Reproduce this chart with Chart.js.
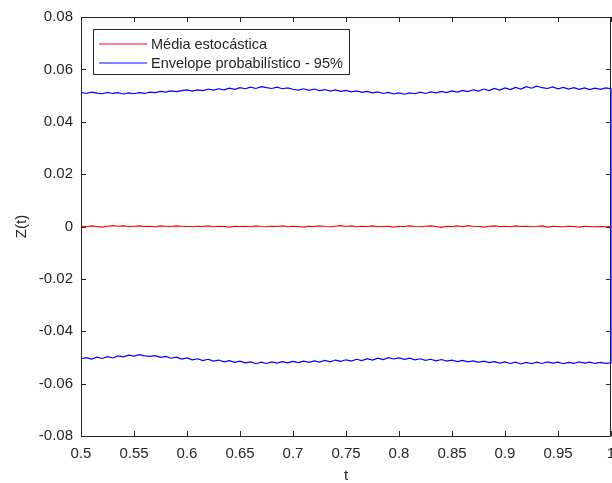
<!DOCTYPE html>
<html lang="pt">
<head>
  <meta charset="UTF-8" />
  <title>Z(t) - média e envelope</title>
  <script src="https://cdn.jsdelivr.net/npm/chart.js"></script>
  <style>
    * { margin: 0; padding: 0; }
    body { background: #fff; width: 612px; height: 483px; overflow: hidden; }
    #wrap { position: relative; width: 612px; height: 483px; }
  </style>
</head>
<body>
  <div id="wrap"><canvas id="chart"></canvas></div>

  <script>
    // amostragem em t: 0.5 .. 1.0, passo 0.005
    const T0 = 0.5;
    const DT = 0.005;

    const xTicks = [0.5, 0.55, 0.6, 0.65, 0.7, 0.75, 0.8, 0.85, 0.9, 0.95, 1];
    const yTicks = [-0.08, -0.06, -0.04, -0.02, 0, 0.02, 0.04, 0.06, 0.08];

    const mediaZ = [
      0.0001, -0.0001, 0.0002, 0.0000, -0.0002, 0.0001, 0.0003, 0.0001, 0.0002, 0.0000,
      0.0001, 0.0002, 0.0000, 0.0001, -0.0001, 0.0002, 0.0001, 0.0000, 0.0002, 0.0001,
      0.0000, -0.0001, 0.0001, 0.0000, 0.0002, -0.0001, 0.0001, 0.0000, -0.0002, 0.0001,
      0.0000, 0.0001, -0.0001, 0.0002, 0.0000, -0.0001, 0.0001, 0.0000, 0.0002, -0.0001,
      0.0001, 0.0000, -0.0002, 0.0001, 0.0000, 0.0002, 0.0000, -0.0001, 0.0001, 0.0003,
      0.0000, 0.0002, -0.0001, 0.0001, 0.0000, 0.0002, -0.0001, 0.0000, 0.0001, -0.0002,
      0.0001, 0.0000, 0.0002, 0.0000, -0.0001, 0.0001, 0.0002, 0.0000, -0.0003, 0.0001,
      0.0000, 0.0002, -0.0001, 0.0003, 0.0001, 0.0000, -0.0002, 0.0001, 0.0002, 0.0000,
      0.0001, -0.0001, 0.0002, 0.0000, 0.0001, -0.0001, 0.0000, 0.0002, -0.0002, 0.0001,
      0.0000, -0.0001, 0.0001, 0.0000, -0.0002, 0.0001, 0.0000, -0.0001, 0.0000, -0.0001,
      0.0000
    ];

    const envSup = [
      0.0512, 0.0508, 0.0513, 0.0509, 0.0507, 0.0512, 0.0508, 0.0511, 0.0506, 0.0510,
      0.0507, 0.0511, 0.0508, 0.0513, 0.0511, 0.0516, 0.0513, 0.0518, 0.0515, 0.0519,
      0.0522, 0.0517, 0.0522, 0.0519, 0.0525, 0.0521, 0.0526, 0.0522, 0.0528, 0.0524,
      0.0530, 0.0526, 0.0532, 0.0527, 0.0534, 0.0530, 0.0527, 0.0532, 0.0526, 0.0529,
      0.0524, 0.0521, 0.0526, 0.0520, 0.0525, 0.0519, 0.0523, 0.0517, 0.0522, 0.0516,
      0.0520, 0.0514, 0.0518, 0.0512, 0.0516, 0.0510, 0.0514, 0.0508, 0.0512, 0.0506,
      0.0510, 0.0505, 0.0510, 0.0507, 0.0513, 0.0508, 0.0514, 0.0510, 0.0516, 0.0511,
      0.0518, 0.0513, 0.0520, 0.0515, 0.0522, 0.0517, 0.0525, 0.0519, 0.0527, 0.0521,
      0.0529, 0.0523, 0.0531, 0.0525, 0.0534, 0.0528, 0.0536, 0.0530, 0.0527, 0.0533,
      0.0526, 0.0531, 0.0525, 0.0530, 0.0524, 0.0529, 0.0523, 0.0528, 0.0524, 0.0529,
      0.0526
    ];

    const envInf = [
      -0.0505, -0.0501, -0.0506, -0.0499, -0.0504, -0.0497, -0.0502, -0.0494, -0.0498, -0.0491,
      -0.0495, -0.0489, -0.0494, -0.0496, -0.0493, -0.0500, -0.0496, -0.0503, -0.0499, -0.0506,
      -0.0502, -0.0509, -0.0505, -0.0512, -0.0507, -0.0514, -0.0510, -0.0517, -0.0512, -0.0519,
      -0.0514, -0.0521, -0.0517, -0.0524, -0.0518, -0.0523, -0.0517, -0.0522, -0.0516, -0.0521,
      -0.0515, -0.0520, -0.0514, -0.0519, -0.0513, -0.0518, -0.0511, -0.0517, -0.0510, -0.0515,
      -0.0509, -0.0514, -0.0507, -0.0512, -0.0505, -0.0510, -0.0503, -0.0508, -0.0501, -0.0506,
      -0.0502, -0.0507, -0.0503, -0.0509, -0.0505, -0.0511, -0.0507, -0.0513, -0.0508, -0.0514,
      -0.0510, -0.0516, -0.0511, -0.0517, -0.0513, -0.0519, -0.0514, -0.0520, -0.0516, -0.0522,
      -0.0517, -0.0523, -0.0518, -0.0525, -0.0519, -0.0524, -0.0518, -0.0523, -0.0517, -0.0522,
      -0.0518, -0.0524, -0.0519, -0.0523, -0.0517, -0.0522, -0.0518, -0.0523, -0.0519, -0.0523,
      -0.0521
    ];

    const FONT = '"Liberation Sans", Arial, sans-serif';
    const TXT = '#262626';

    const pontos = (arr) => arr.map((v, i) => ({ x: +(T0 + i * DT).toFixed(4), y: v }));

    // envelope: superior em t crescente, depois inferior de volta (fecha em t = 1)
    const envPts = pontos(envSup).concat(pontos(envInf).reverse());

    // moldura estilo matlab: caixa + ticks para dentro nos 4 lados (por baixo das curvas),
    // legenda por cima
    const moldura = {
      id: 'moldura',
      beforeDatasetsDraw(chart) {
        const { ctx, chartArea: a, scales } = chart;
        const L = 5;
        ctx.save();
        ctx.strokeStyle = TXT;
        ctx.lineWidth = 1;
        ctx.beginPath();
        ctx.rect(Math.round(a.left) + 0.5, Math.round(a.top) + 0.5,
                 Math.round(a.right - a.left) - 1, Math.round(a.bottom - a.top));
        xTicks.forEach(v => {
          const px = Math.round(scales.x.getPixelForValue(v)) + 0.5;
          ctx.moveTo(px, a.bottom); ctx.lineTo(px, a.bottom - L);
          ctx.moveTo(px, a.top); ctx.lineTo(px, a.top + L);
        });
        yTicks.forEach(v => {
          const py = Math.round(scales.y.getPixelForValue(v)) + 0.5;
          ctx.moveTo(a.left, py); ctx.lineTo(a.left + L, py);
          ctx.moveTo(a.right, py); ctx.lineTo(a.right - L, py);
        });
        ctx.stroke();
        ctx.restore();
      },
      afterDatasetsDraw(chart) {
        const { ctx } = chart;
        ctx.save();
        ctx.font = '14.5px ' + FONT;
        const larg = Math.max(...chart.data.datasets.map(ds => ctx.measureText(ds.label).width));
        const bx = 93.5, by = 29.5, bw = Math.round(150 + larg + 7 - 93), bh = 45;
        ctx.fillStyle = '#fff';
        ctx.fillRect(bx, by, bw, bh);
        ctx.strokeStyle = TXT;
        ctx.lineWidth = 1;
        ctx.strokeRect(bx, by, bw, bh);
        ctx.textBaseline = 'middle';
        chart.data.datasets.forEach((ds, i) => {
          const y = 44 + i * 19;
          ctx.strokeStyle = ds.borderColor;
          ctx.lineWidth = 1.2;
          ctx.beginPath();
          ctx.moveTo(99, y); ctx.lineTo(147, y);
          ctx.stroke();
          ctx.fillStyle = TXT;
          ctx.fillText(ds.label, 151, y + 0.5);
        });
        ctx.restore();
      }
    };

    new Chart(document.getElementById('chart'), {
      type: 'scatter',
      data: {
        datasets: [
          {
            label: 'Média estocástica',
            data: pontos(mediaZ),
            showLine: true,
            borderColor: '#ff0000',
            borderWidth: 1.2,
            pointRadius: 0,
            tension: 0,
            clip: 2
          },
          {
            label: 'Envelope probabilístico - 95%',
            data: envPts,
            showLine: true,
            borderColor: '#0000ff',
            borderWidth: 1.2,
            pointRadius: 0,
            tension: 0,
            clip: 2
          }
        ]
      },
      options: {
        responsive: true,
        maintainAspectRatio: false,
        animation: false,
        layout: { padding: { left: 0, top: 17, right: 1, bottom: 0 } },
        plugins: {
          legend: { display: false },
          tooltip: { enabled: false }
        },
        scales: {
          x: {
            type: 'linear',
            min: 0.5,
            max: 1,
            afterBuildTicks: (s) => { s.ticks = xTicks.map(v => ({ value: v })); },
            afterFit: (s) => { s.height = 47; s.paddingLeft = 0; s.paddingRight = 0; },
            grid: { display: false },
            border: { display: false },
            ticks: {
              color: TXT,
              font: { family: FONT, size: 15 },
              padding: 1,
              maxRotation: 0,
              autoSkip: false,
              callback: (v) => String(+v.toFixed(2))
            },
            title: {
              display: true,
              text: 't',
              color: TXT,
              font: { family: FONT, size: 15, lineHeight: 1 },
              padding: { top: 0, bottom: 0 }
            }
          },
          y: {
            min: -0.08,
            max: 0.08,
            afterBuildTicks: (s) => { s.ticks = yTicks.map(v => ({ value: v })); },
            afterFit: (s) => { s.width = 81; s.paddingTop = 0; s.paddingBottom = 0; },
            grid: { display: false },
            border: { display: false },
            ticks: {
              color: TXT,
              font: { family: FONT, size: 15 },
              padding: 0,
              autoSkip: false,
              callback: (v) => String(+v.toFixed(2))
            },
            title: {
              display: true,
              text: 'Z(t)',
              color: TXT,
              font: { family: FONT, size: 15 },
              padding: { top: 13, bottom: 0 }
            }
          }
        }
      },
      plugins: [moldura]
    });
  </script>
</body>
</html>
